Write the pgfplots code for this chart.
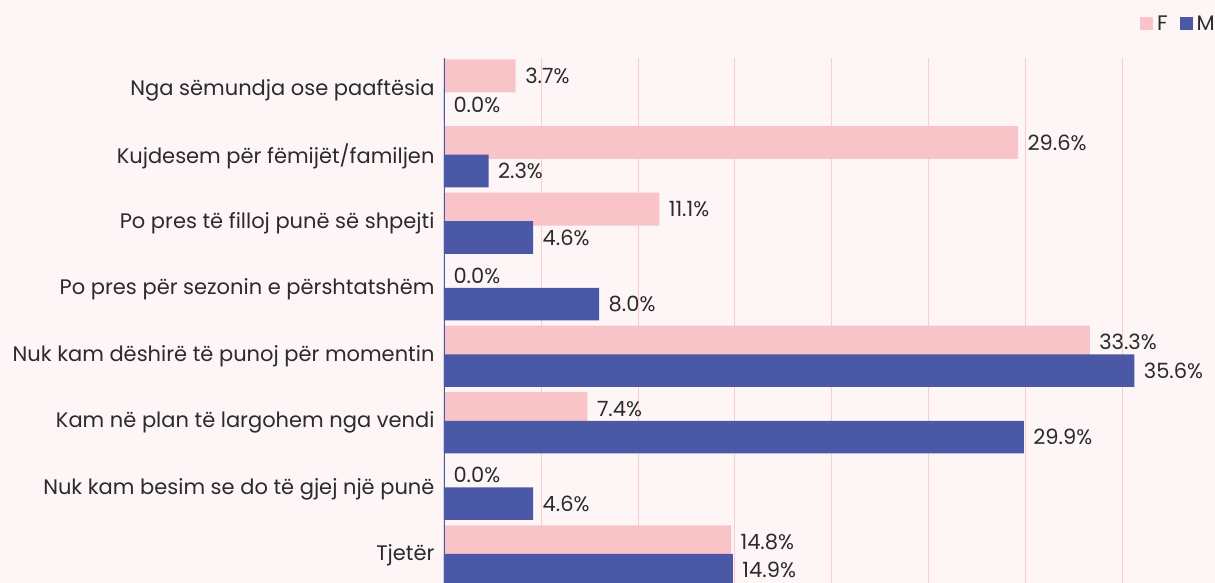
\documentclass[border=0pt]{standalone}
\usepackage{pgfplots}
\pgfplotsset{compat=1.18}
\usepackage{fontspec}
\setmainfont{Poppins}
\definecolor{bg}{HTML}{FEF6F6}
\definecolor{fcol}{HTML}{F8C4C7}
\definecolor{mcol}{HTML}{4A58A6}
\definecolor{gridc}{HTML}{F6CDD0}
\definecolor{txt}{HTML}{2B2B2B}
\newcommand{\lf}{\fontsize{21}{24}\selectfont}
\begin{document}
\begin{tikzpicture}
\fill[bg] (-444pt,0) rectangle (771pt,583pt);
\path[use as bounding box] (-444pt,0) rectangle (771pt,583pt);
\begin{axis}[
  at={(0pt,0pt)}, anchor=south west,
  scale only axis, width=766pt, height=525pt,
  xbar, xmin=0, xmax=39.5, ymin=-0.48, ymax=7.41, y dir=reverse,
  ytick={0,...,7},
  yticklabels={Nga sëmundja ose paaftësia, Kujdesem për fëmijët/familjen, Po pres të filloj punë së shpejti, Po pres për sezonin e përshtatshëm, Nuk kam dëshirë të punoj për momentin, Kam në plan të largohem nga vendi, Nuk kam besim se do të gjej një punë, Tjetër},
  yticklabel style={font=\lf, text=txt, xshift=-6pt, yshift=0pt},
  xtick={5,10,...,35}, xticklabels={},
  xmajorgrids, grid style={gridc, line width=0.8pt},
  major tick length=0pt,
  axis lines=left, axis line style={draw=none},
  point meta=x,
  nodes near coords={\pgfmathprintnumber[fixed,fixed zerofill,precision=1]{\pgfplotspointmeta}\%},
  nodes near coords style={font=\lf, text=txt, anchor=west, xshift=6pt},
  /pgf/number format/assume math mode=true,
  legend style={at={(1.013,1.065)}, anchor=east, draw=none, fill=none, font=\lf, text=txt,
    legend columns=2, /tikz/every even column/.append style={column sep=10pt},
    /tikz/every odd column/.append style={column sep=2pt}},
  legend image code/.code={\fill[#1] (0pt,-6.5pt) rectangle (13pt,6.5pt);},
]
\addplot[fill=fcol, draw=none, bar width=0.495, bar shift=-0.21] coordinates {
  (3.7,0) (29.6,1) (11.1,2) (0.0,3) (33.3,4) (7.4,5) (0.0,6) (14.8,7)};
\addlegendentry{F}
\addplot[fill=mcol, draw=none, bar width=0.49, bar shift=0.218] coordinates {
  (0.0,0) (2.3,1) (4.6,2) (8.0,3) (35.6,4) (29.9,5) (4.6,6) (14.9,7)};
\addlegendentry{M}
\draw[mcol, line width=1.3pt] (rel axis cs:0,0) -- (rel axis cs:0,1);
\end{axis}
\end{tikzpicture}
\end{document}
